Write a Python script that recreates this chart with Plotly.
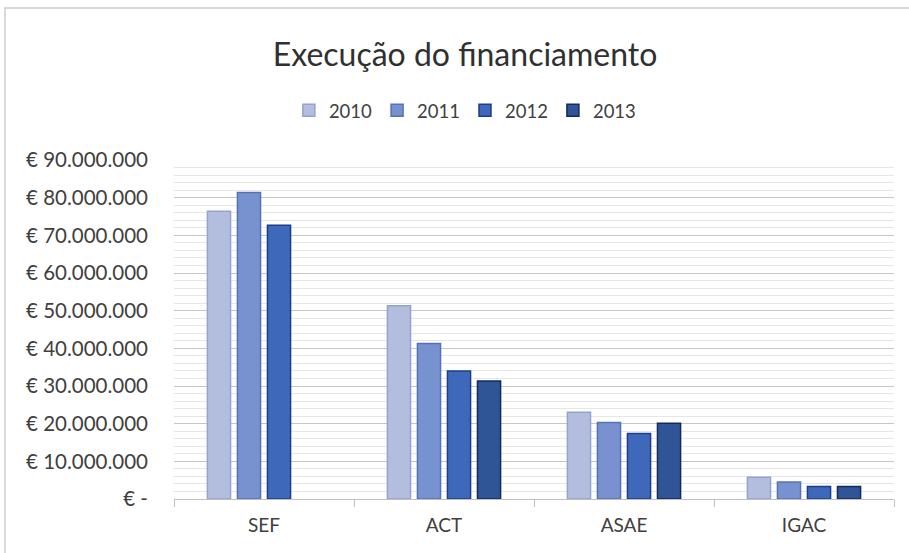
import plotly.graph_objects as go

# ── Data ──────────────────────────────────────────────────────────────────────
CATEGORIES = ["SEF", "ACT", "ASAE", "IGAC"]
YEARS = ["2010", "2011", "2012", "2013"]
VALUES = {
    "2010": [76_400_000, 51_300_000, 23_000_000, 5_800_000],
    "2011": [81_400_000, 41_300_000, 20_300_000, 4_500_000],
    "2012": [72_700_000, 34_000_000, 17_400_000, 3_300_000],
    "2013": [None, 31_300_000, 20_100_000, 3_300_000],
}
TICK_VALS = [0, 10_000_000, 20_000_000, 30_000_000, 40_000_000,
             50_000_000, 60_000_000, 70_000_000, 80_000_000, 90_000_000]
TICK_TEXT = ["€ -", "€ 10.000.000", "€ 20.000.000", "€ 30.000.000", "€ 40.000.000",
             "€ 50.000.000", "€ 60.000.000", "€ 70.000.000", "€ 80.000.000", "€ 90.000.000"]

FILLS = {"2010": "#b3bedf", "2011": "#7891cf", "2012": "#3e68b9", "2013": "#2f5597"}
EDGES = {"2010": "#93a3cf", "2011": "#5572b6", "2012": "#1c3c8c", "2013": "#15295e"}

FONT = "Lato, 'Open Sans', sans-serif"
TEXT = "#404040"

# ── Figure ────────────────────────────────────────────────────────────────────
fig = go.Figure()
for yr in YEARS:
    fig.add_bar(
        x=CATEGORIES, y=VALUES[yr], name=yr,
        marker=dict(color=FILLS[yr], line=dict(color=EDGES[yr], width=1.5)),
    )

fig.update_layout(
    width=909, height=553,
    margin=dict(l=174, r=15, t=160, b=54),
    paper_bgcolor="white", plot_bgcolor="white",
    barmode="group", bargap=0.333, bargroupgap=0.23,
    font=dict(family=FONT, size=19, color=TEXT),
    title=dict(
        text="Execução do financiamento",
        x=0.5116, xref="container", xanchor="center",
        y=1 - 55 / 553, yref="container", yanchor="middle",
        font=dict(family=FONT, size=32, color="#303030"),
    ),
    legend=dict(
        orientation="h", x=0.404, xanchor="center", y=1.145, yanchor="middle",
        font=dict(size=18.5, color=TEXT), itemwidth=30, traceorder="normal",
        bgcolor="rgba(0,0,0,0)",
    ),
    xaxis=dict(
        showgrid=False, showline=True, linecolor="#bfbfbf", linewidth=1,
        ticks="outside", tickson="boundaries", ticklen=7, tickcolor="#bfbfbf",
        ticklabelstandoff=9,
        tickfont=dict(size=19, color=TEXT),
    ),
    yaxis=dict(
        range=[0, 90_000_000], tickvals=TICK_VALS, ticktext=TICK_TEXT,
        showgrid=True, gridcolor="#c6c6c6", gridwidth=1,
        minor=dict(dtick=2_000_000, showgrid=True, gridcolor="#e6e6e6", gridwidth=1),
        zeroline=False, showline=False, ticklabelstandoff=25,
        tickfont=dict(size=20.5, color=TEXT),
    ),
    shapes=[
        dict(type="rect", xref="paper", yref="paper",
             x0=(5 - 174) / 720, x1=(925 - 174) / 720,
             y0=(499 - 560) / 339, y1=(499 - 8) / 339,
             line=dict(color="#d9d9d9", width=2), fillcolor="rgba(0,0,0,0)", layer="below"),
    ],
)

# drop the browser's default 8px body margin so the figure sits at the page origin
fig.write_html(
    "out.html",
    config={"displayModeBar": False},
    post_script="document.body.style.margin='0';",
)
